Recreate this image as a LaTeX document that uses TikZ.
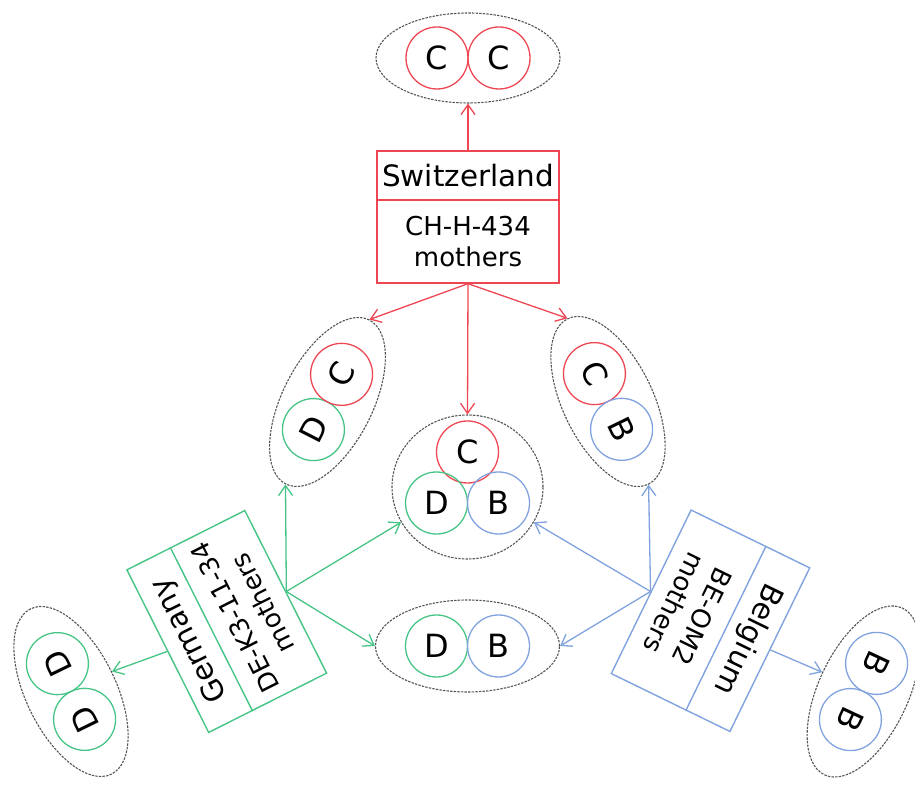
\documentclass[tikz,border=0pt]{standalone}
\usepackage{fontspec}
\setmainfont{DejaVu Sans}
\usetikzlibrary{shapes.geometric,arrows.meta,calc}
\definecolor{cred}{RGB}{238,70,82}
\definecolor{cgreen}{RGB}{70,196,134}
\definecolor{cblue}{RGB}{128,162,222}
\definecolor{cgray}{RGB}{85,85,85}
\begin{document}
\begin{tikzpicture}[x=0.5pt,y=0.5pt,
  grp/.style={ellipse, draw=cgray, line width=0.55pt, dash pattern=on 1.2pt off 0.6pt, minimum width=92pt, minimum height=45pt, inner sep=0pt},
  allele/.style={circle, draw=#1, line width=0.65pt, minimum size=31pt, inner sep=0pt, font=\fontsize{16}{19}\selectfont},
  country/.style={draw=#1, line width=0.7pt, minimum width=91pt, minimum height=66pt, inner sep=0pt},
  ctitle/.style={font=\fontsize{14.7}{17}\selectfont, inner sep=0pt},
  csub/.style={font=\fontsize{13}{15.5}\selectfont, align=center, inner sep=0pt},
  divider/.style={draw=#1, line width=0.7pt},
  link/.style={draw=#1, line width=0.65pt, -{Straight Barb[length=5pt,width=7pt]}},
]
\useasboundingbox (0,0) rectangle (915,785);

% ---- genotype groups ----
\begin{scope}[shift={(468,727)}]
  \node[grp] (cc) at (0,0) {};
  \node[allele=cred] (cc1) at (-31,0) {C};
  \node[allele=cred] (cc2) at (31,0) {C};
\end{scope}

\begin{scope}[shift={(327.5,383)}, rotate=63, transform shape]
  \node[grp] (dc) at (0,0) {};
  \node[allele=cgreen] (dc1) at (-31,0) {D};
  \node[allele=cred] (dc2) at (31,0) {C};
\end{scope}

\begin{scope}[shift={(608,383.5)}, rotate=-64, transform shape]
  \node[grp] (cb) at (0,0) {};
  \node[allele=cred] (cb1) at (-31,0) {C};
  \node[allele=cblue] (cb2) at (31,0) {B};
\end{scope}

\begin{scope}[shift={(467.5,298)}]
  \node[grp, minimum width=75.5pt, minimum height=72pt] (cdb) at (0,0) {};
  \node[allele=cred] (cdb1) at (0,35) {C};
  \node[allele=cgreen] (cdb2) at (-31,-16) {D};
  \node[allele=cblue] (cdb3) at (31,-16) {B};
\end{scope}

\begin{scope}[shift={(467.5,139)}]
  \node[grp, minimum height=46pt] (db) at (0,0) {};
  \node[allele=cgreen] (db1) at (-31,0) {D};
  \node[allele=cblue] (db2) at (31,0) {B};
\end{scope}

\begin{scope}[shift={(71,93.5)}, rotate=116, transform shape]
  \node[grp] (dd) at (0,0) {};
  \node[allele=cgreen] (dd1) at (-31,0) {D};
  \node[allele=cgreen] (dd2) at (31,0) {D};
\end{scope}

\begin{scope}[shift={(863.5,93.5)}, rotate=-115, transform shape]
  \node[grp] (bb) at (0,0) {};
  \node[allele=cblue] (bb1) at (-31,0) {B};
  \node[allele=cblue] (bb2) at (31,0) {B};
\end{scope}

% ---- country boxes ----
\begin{scope}[shift={(468,568)}]
  \node[country=cred] (sw) at (0,0) {};
  \draw[divider=cred] ($(sw.north west)!49/132!(sw.south west)$) -- ($(sw.north east)!49/132!(sw.south east)$);
  \node[ctitle] (swt) at (0,41.5) {Switzerland};
  \node[csub] (sws) at (0,-24.5) {CH-H-434\\mothers};
\end{scope}

\begin{scope}[shift={(226.75,163.5)}, rotate=116.7, transform shape]
  \node[country=cgreen] (ge) at (0,0) {};
  \draw[divider=cgreen] ($(ge.north west)!49/132!(ge.south west)$) -- ($(ge.north east)!49/132!(ge.south east)$);
  \node[ctitle] (get) at (0,41.5) {Germany};
  \node[csub] (ges) at (0,-24.5) {DE-K3-11-34\\mothers};
\end{scope}

\begin{scope}[shift={(710.5,164.25)}, rotate=-116, transform shape]
  \node[country=cblue] (be) at (0,0) {};
  \draw[divider=cblue] ($(be.north west)!49/132!(be.south west)$) -- ($(be.north east)!49/132!(be.south east)$);
  \node[ctitle] (bet) at (0,41.5) {Belgium};
  \node[csub] (bes) at (0,-24.5) {BE-OM2\\mothers};
\end{scope}

% ---- connectors ----
\draw[link=cred] (sw.north) -- (cc.south);
\draw[link=cred] (sw.south) -- (dc.east);
\draw[link=cred] (sw.south) -- (cdb.north);
\draw[link=cred] (sw.south) -- (cb.west);

\draw[link=cgreen] (ge.north) -- (dd.south);
\draw[link=cgreen] (ge.south) -- (dc.west);
\draw[link=cgreen] (ge.south) -- (cdb.208);
\draw[link=cgreen] (ge.south) -- (db.west);

\draw[link=cblue] (be.north) -- (bb.south);
\draw[link=cblue] (be.south) -- (cb.east);
\draw[link=cblue] (be.south) -- (cdb.-28);
\draw[link=cblue] (be.south) -- (db.east);
\end{tikzpicture}
\end{document}
